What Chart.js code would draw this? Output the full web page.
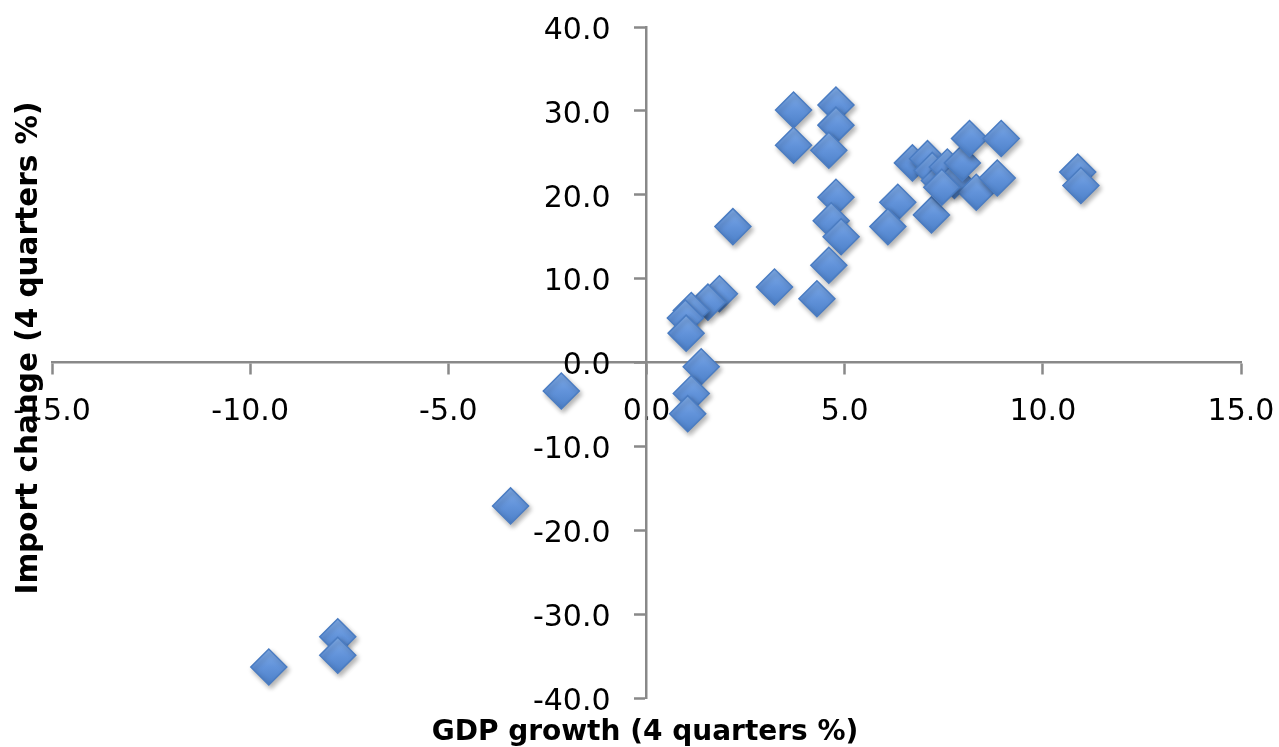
<!DOCTYPE html>
<html>
<head>
<meta charset="utf-8">
<title>GDP growth vs import change</title>
<script src="https://cdn.jsdelivr.net/npm/chart.js@4.4.1/dist/chart.umd.min.js"></script>
<style>
  html, body { margin: 0; padding: 0; background: #ffffff; }
  #wrap { width: 1279px; height: 747px; position: relative; }
</style>
</head>
<body>
<div id="wrap"><canvas id="chart"></canvas></div>
<script>
// GDP growth over 4 quarters (%), one entry per observation
const gdpGrowth = [
  3.71, 4.78, 4.78, 3.71, 4.60, 2.18, 4.78, 4.66, 4.91, 4.60,
  3.23, 4.30, 6.34, 6.09, 7.19, 6.71, 7.09, 7.21, 7.39, 7.59,
  7.77, 7.97, 8.32, 8.85, 8.15, 8.95, 10.88, 10.96, 7.45, 1.84,
  1.55, 1.13, 0.98, 1.00, 1.38, 1.13, 1.04, -2.15, -3.43, -7.79,
  -7.79, -9.53
];
// Import change over 4 quarters (%), same order as gdpGrowth
const importChange = [
  30.1, 30.7, 28.3, 25.9, 25.3, 16.2, 19.7, 16.9, 15.0, 11.6,
  9.0, 7.6, 19.1, 16.2, 17.6, 23.8, 24.3, 22.9, 21.7, 23.3,
  21.7, 23.8, 20.3, 22.0, 26.7, 26.7, 22.7, 21.1, 20.9, 8.2,
  7.2, 6.2, 5.3, 3.5, -0.5, -3.7, -6.1, -3.4, -17.1, -32.7,
  -34.9, -36.3
];
// Axis tick values
const xTickValues = [-15, -10, -5, 0, 5, 10, 15];
const yTickValues = [-40, -30, -20, -10, 0, 10, 20, 30, 40];

const xTitle = 'GDP growth (4 quarters %)';
const yTitle = 'Import change (4 quarters %)';

const points = gdpGrowth.map((x, i) => ({ x: x, y: importChange[i] }));

const axisGrey = '#898989';
const tickFont = { family: 'DejaVu Sans', size: 30 };

// Soft drop shadow under the markers
const markerShadow = {
  id: 'markerShadow',
  beforeDatasetsDraw(chart) {
    const ctx = chart.ctx;
    ctx.save();
    ctx.shadowColor = 'rgba(0,0,0,0.30)';
    ctx.shadowBlur = 5;
    ctx.shadowOffsetX = 2;
    ctx.shadowOffsetY = 3;
  },
  afterDatasetsDraw(chart) {
    chart.ctx.restore();
  }
};

// Value labels of the vertical axis: right-aligned, set off to the left of
// the tick marks (the axis crosses the plot at x = 0)
const yAxisLabels = {
  id: 'yAxisLabels',
  afterDraw(chart) {
    const ys = chart.scales.y;
    const xs = chart.scales.x;
    const ctx = chart.ctx;
    const axisX = xs.getPixelForValue(0);
    ctx.save();
    ctx.fillStyle = '#000000';
    ctx.font = tickFont.size + 'px "' + tickFont.family + '"';
    ctx.textAlign = 'right';
    ctx.textBaseline = 'middle';
    ys.ticks.forEach((t) => {
      const label = Number(t.value).toFixed(1);
      ctx.fillText(label, axisX - 36, ys.getPixelForValue(t.value) + 4);
    });
    ctx.restore();
  }
};

// Axis titles: bold, one under the plot, one rotated along the left edge
const axisTitles = {
  id: 'axisTitles',
  afterDraw(chart) {
    const ctx = chart.ctx;
    ctx.save();
    ctx.fillStyle = '#000000';
    ctx.textAlign = 'center';
    ctx.textBaseline = 'alphabetic';
    ctx.font = 'bold 28px "DejaVu Sans"';
    ctx.fillText(xTitle, 645, 740);
    ctx.translate(37, 348);
    ctx.rotate(-Math.PI / 2);
    ctx.font = 'bold 29.5px "DejaVu Sans"';
    ctx.fillText(yTitle, 0, 0);
    ctx.restore();
  }
};

function markerFill(context) {
  const chart = context.chart;
  const raw = context.raw;
  if (!raw || !chart.scales.y) return '#5b8dd4';
  const py = chart.scales.y.getPixelForValue(raw.y);
  if (!isFinite(py)) return '#5b8dd4';
  const g = chart.ctx.createLinearGradient(0, py - 18, 0, py + 18);
  g.addColorStop(0, '#80ace8');
  g.addColorStop(0.5, '#6293da');
  g.addColorStop(1, '#4c80c8');
  return g;
}

new Chart(document.getElementById('chart'), {
  type: 'scatter',
  data: {
    datasets: [{
      label: 'Import change',
      data: points,
      pointStyle: 'rectRot',
      pointRadius: 18,
      pointHoverRadius: 18,
      backgroundColor: markerFill,
      borderColor: '#4a7cc2',
      borderWidth: 1.5
    }]
  },
  options: {
    responsive: true,
    maintainAspectRatio: false,
    animation: false,
    events: [],
    layout: { padding: { left: 52, right: 38, top: 27, bottom: 49 } },
    plugins: {
      legend: { display: false },
      tooltip: { enabled: false },
      title: { display: false }
    },
    scales: {
      x: {
        type: 'linear',
        min: -15,
        max: 15,
        position: { y: 0 },
        afterBuildTicks(scale) { scale.ticks = xTickValues.map(v => ({ value: v })); },
        // end labels may hang over the plot edges, as the frame allows
        afterFit(scale) { scale.paddingLeft = 0; scale.paddingRight = 0; },
        ticks: {
          font: tickFont,
          color: '#000000',
          padding: 21,
          maxRotation: 0,
          autoSkip: false,
          callback: v => Number(v).toFixed(1)
        },
        grid: {
          drawOnChartArea: false,
          drawTicks: true,
          tickLength: 11,
          tickWidth: 2.5,
          tickColor: axisGrey,
          color: axisGrey
        },
        border: { display: true, color: axisGrey, width: 2.5 }
      },
      y: {
        type: 'linear',
        min: -40,
        max: 40,
        position: { x: 0 },
        afterBuildTicks(scale) { scale.ticks = yTickValues.map(v => ({ value: v })); },
        ticks: {
          display: false,
          font: tickFont,
          autoSkip: false
        },
        grid: {
          drawOnChartArea: false,
          drawTicks: true,
          tickLength: 11,
          tickWidth: 2.5,
          tickColor: axisGrey,
          color: axisGrey
        },
        border: { display: true, color: axisGrey, width: 2.5 }
      }
    }
  },
  plugins: [markerShadow, yAxisLabels, axisTitles]
});
</script>
</body>
</html>
